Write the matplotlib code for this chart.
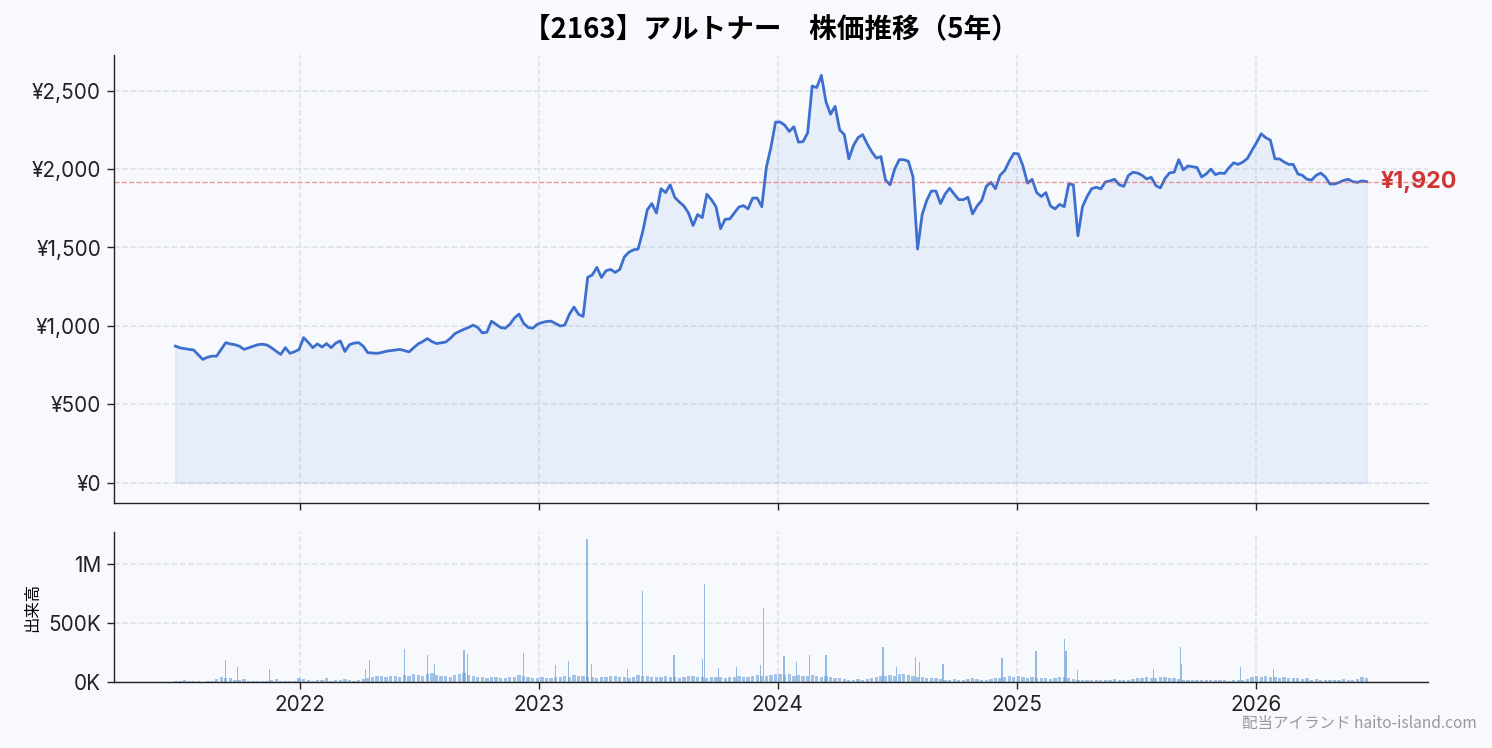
import numpy as np
import pandas as pd
import matplotlib
matplotlib.use("Agg")
import matplotlib.pyplot as plt
from matplotlib.ticker import FuncFormatter
import matplotlib.dates as mdates

plt.rcParams['font.family'] = ['Inter', 'Noto Sans CJK JP', 'DejaVu Sans']

# weekly closing prices, starting 2021-06-25
start_date = '2021-06-25'
price = [
    871, 860, 855, 850, 846, 815, 786, 800, 807, 807,
    850, 893, 885, 880, 870, 850, 860, 870, 880, 883,
    878, 860, 838, 818, 861, 825, 835, 850, 925, 895,
    861, 885, 865, 887, 861, 890, 904, 837, 880, 890,
    893, 871, 829, 827, 825, 830, 838, 842, 846, 850,
    842, 834, 860, 885, 900, 919, 900, 887, 892, 897,
    920, 950, 965, 978, 990, 1005, 990, 955, 960, 1030,
    1010, 989, 985, 1010, 1050, 1075, 1017, 990, 985, 1010,
    1021, 1028, 1030, 1015, 999, 1005, 1074, 1120, 1074, 1060,
    1310, 1325, 1373, 1309, 1352, 1360, 1341, 1360, 1440, 1470,
    1485, 1490, 1600, 1740, 1780, 1720, 1875, 1850, 1900, 1820,
    1790, 1765, 1720, 1640, 1710, 1690, 1840, 1805, 1760, 1620,
    1680, 1682, 1720, 1758, 1767, 1746, 1815, 1815, 1760, 2012,
    2140, 2300, 2300, 2280, 2240, 2270, 2172, 2175, 2230, 2530,
    2520, 2598, 2430, 2350, 2400, 2250, 2220, 2065, 2150, 2200,
    2220, 2161, 2110, 2070, 2080, 1930, 1900, 2000, 2060, 2060,
    2050, 1950, 1490, 1710, 1800, 1860, 1860, 1780, 1840, 1878,
    1840, 1805, 1805, 1820, 1714, 1765, 1800, 1890, 1915, 1875,
    1960, 1990, 2050, 2100, 2097, 2020, 1910, 1935, 1850, 1825,
    1850, 1765, 1746, 1775, 1760, 1905, 1900, 1575, 1760, 1825,
    1875, 1884, 1874, 1918, 1925, 1935, 1900, 1890, 1959, 1980,
    1975, 1960, 1937, 1948, 1895, 1880, 1940, 1976, 1980, 2060,
    1995, 2020, 2015, 2010, 1950, 1969, 2000, 1965, 1975, 1972,
    2010, 2040, 2030, 2045, 2068, 2120, 2170, 2225, 2200, 2185,
    2065, 2065, 2045, 2030, 2030, 1969, 1960, 1935, 1930, 1960,
    1975, 1950, 1905, 1905, 1915, 1928, 1935, 1920, 1915, 1925,
    1920,
]

# typical weekly volume level (thousands of shares)
vol_week = [
    8, 12, 15, 6, 5, 5, 4, 6, 10, 25, 40, 30, 35, 20, 15, 25, 12, 8, 10, 10,
    6, 15, 25, 8, 10, 8, 12, 30,
    25, 15, 10, 20, 15, 30, 12, 15, 20, 25, 15, 10, 20, 25, 30, 45, 55, 50,
    45, 50, 55, 45, 60, 50, 70,
    60, 55, 70, 80, 60, 50, 55, 45, 60, 70, 75, 60, 50, 45, 40, 35, 40, 45,
    35, 30, 40, 45, 60, 55, 40, 35, 30, 40,
    35, 30, 40, 45, 50, 40, 60, 55, 50, 45, 40, 35, 45, 40, 50, 55, 45, 40,
    35, 45, 60, 55, 50, 45, 40, 45, 50, 45, 40, 35, 45, 50, 55, 45, 40, 35,
    40, 45, 40, 35, 40, 45, 50, 45, 40, 50, 60, 55, 50, 60,
    70, 65, 60, 70, 55, 60, 50, 55, 60, 50, 45, 50, 40, 35, 30, 25, 20, 20,
    25, 20, 25, 30, 40, 55, 50, 60, 55, 65, 70, 60, 50, 45, 40, 35, 30, 30,
    25, 20, 20, 25, 20, 20, 25, 30, 25, 20, 20, 25, 30, 35, 45, 50,
    45, 55, 40, 35, 40, 35, 30, 35, 25, 30, 45, 40, 30, 25, 20, 20, 15, 20,
    15, 20, 15, 20, 25, 20, 15, 20, 25, 30, 35, 40, 35, 30, 40, 45, 35, 30,
    25, 20, 20, 15, 15, 20, 15, 15, 15, 20, 15, 10, 15, 20, 15, 25,
    40, 50, 45, 55, 40, 45, 35, 40, 30, 35, 30, 25, 30, 20, 25, 20, 15, 20,
    15, 20, 25, 20, 15, 25, 45, 30,
]

# single-day volume spikes (thousands of shares)
spike_days = [
    '2021-09-10', '2021-09-28', '2021-11-16', '2022-04-12', '2022-04-18',
    '2022-06-10', '2022-07-15', '2022-07-26', '2022-09-09', '2022-09-14',
    '2022-12-09', '2023-01-27', '2023-02-16', '2023-03-16', '2023-03-17',
    '2023-03-23', '2023-05-17', '2023-06-09', '2023-07-27', '2023-09-08',
    '2023-09-11', '2023-10-03', '2023-10-30', '2023-12-06', '2023-12-11',
    '2024-01-11', '2024-01-30', '2024-02-19', '2024-03-15', '2024-06-10',
    '2024-07-01', '2024-07-30', '2024-08-05', '2024-09-10', '2024-12-09',
    '2025-01-30', '2025-03-14', '2025-03-17', '2025-04-03', '2025-07-29',
    '2025-09-08', '2025-09-09', '2025-12-08', '2026-01-28',
]
spike_vols = [
    190, 127, 107, 107, 184,
    277, 226, 155, 268, 234,
    246, 141, 175, 1210, 514,
    150, 113, 771, 226, 192,
    828, 121, 127, 141, 624,
    218, 170, 226, 226, 297,
    127, 212, 170, 155, 203,
    263, 367, 260, 99, 113,
    297, 155, 127, 107,
]

last_price = 1920

dates = pd.date_range(start_date, periods=len(price), freq='7D')
spike_dates = pd.to_datetime(spike_days)
vol_week_shares = np.array(vol_week) * 1000
spike_shares = np.array(spike_vols) * 1000

bg = '#f7f9fd'
blue = '#3d6fcf'
cjk = ['Noto Sans CJK JP', 'DejaVu Sans']

fig = plt.figure(figsize=(12, 6.016), dpi=124.34, facecolor=bg)
ax = fig.add_axes([0.0764, 0.3275, 0.8806, 0.599])
axv = fig.add_axes([0.0764, 0.0882, 0.8806, 0.2006], sharex=ax)

for a in (ax, axv):
    a.set_facecolor(bg)
    a.spines['top'].set_visible(False)
    a.spines['right'].set_visible(False)
    a.spines['left'].set_color('#222222')
    a.spines['bottom'].set_color('#222222')
    a.grid(True, linestyle='--', color='#d8dbe3', linewidth=0.9, alpha=0.8)
    a.set_axisbelow(True)
    a.tick_params(labelsize=12, colors='#222222', length=4)

ax.fill_between(dates, price, 0, color=blue, alpha=0.08)
ax.plot(dates, price, color=blue, linewidth=1.6)
ax.axhline(last_price, color='#e05555', linestyle='--', linewidth=0.8, alpha=0.6)
ax.annotate('¥{:,}'.format(last_price), xy=(dates[-1], last_price),
            xytext=(8, 0), textcoords='offset points', va='center', ha='left',
            color='#d03535', fontsize=13.5, fontweight='bold')
ax.yaxis.set_major_formatter(FuncFormatter(lambda v, p: '¥{:,.0f}'.format(v)))
ax.tick_params(axis='x', labelbottom=False)
ax.set_title('【2163】アルトナー\u3000株価推移（5年）', fontsize=16,
             fontweight='bold', pad=10, family=cjk)

axv.bar(dates, vol_week_shares, width=5, color='#6a9fd8', alpha=0.6)
axv.bar(spike_dates, spike_shares, width=2, color='#6a9fd8', alpha=0.7)
axv.set_ylabel('出来高', fontsize=9.5, family=cjk)
axv.yaxis.set_major_formatter(FuncFormatter(
    lambda v, p: '{:.0f}M'.format(v / 1e6) if v >= 1e6 else '{:.0f}K'.format(v / 1e3)))
axv.set_yticks([0, 500000, 1000000])
axv.xaxis.set_major_locator(mdates.YearLocator())
axv.xaxis.set_major_formatter(mdates.DateFormatter('%Y'))

fig.text(0.99, 0.022, '配当アイランド haito-island.com', ha='right', va='bottom',
         fontsize=9, color='#999999', family=cjk)

fig.savefig('out.png', dpi=124.34, facecolor=bg)
